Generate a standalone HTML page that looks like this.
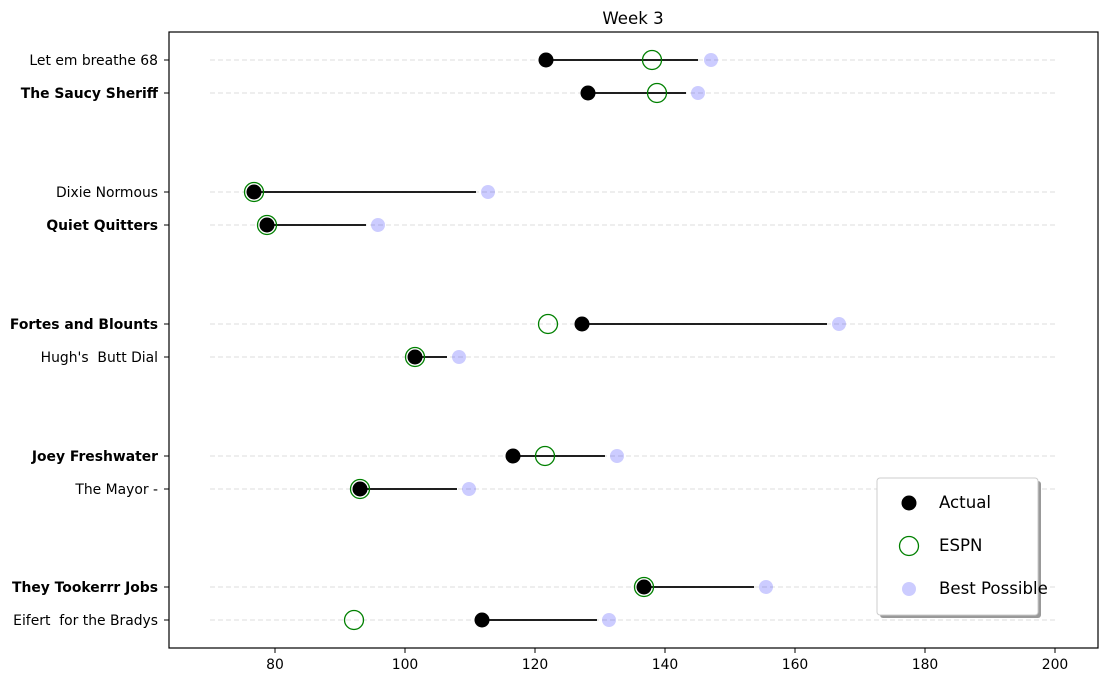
<!DOCTYPE html>
<html><head><meta charset="utf-8"><style>html,body{margin:0;padding:0;background:#fff}svg{display:block}text{font-family:"DejaVu Sans","Liberation Sans",sans-serif;font-size:13.9px;fill:#000}</style></head>
<body>
<svg width="1108" height="682" xmlns="http://www.w3.org/2000/svg">
<text x="633" y="24" text-anchor="middle" style="font-size:16.6px">Week 3</text>
<g stroke="#e3e3e3" stroke-width="1.2" stroke-dasharray="5,3">
<line x1="210" x2="1055" y1="60" y2="60"/><line x1="210" x2="1055" y1="93" y2="93"/>
<line x1="210" x2="1055" y1="192" y2="192"/><line x1="210" x2="1055" y1="225" y2="225"/>
<line x1="210" x2="1055" y1="324" y2="324"/><line x1="210" x2="1055" y1="357" y2="357"/>
<line x1="210" x2="1055" y1="456" y2="456"/><line x1="210" x2="1055" y1="489" y2="489"/>
<line x1="210" x2="1055" y1="587" y2="587"/><line x1="210" x2="1055" y1="620" y2="620"/>
</g>
<g stroke="#000" stroke-width="1.8">
<line x1="546" x2="698" y1="60" y2="60"/><line x1="588" x2="686" y1="93" y2="93"/>
<line x1="254" x2="476" y1="192" y2="192"/><line x1="267" x2="366" y1="225" y2="225"/>
<line x1="582" x2="827" y1="324" y2="324"/><line x1="415" x2="447" y1="357" y2="357"/>
<line x1="513" x2="605" y1="456" y2="456"/><line x1="360" x2="457" y1="489" y2="489"/>
<line x1="644" x2="754" y1="587" y2="587"/><line x1="482" x2="597" y1="620" y2="620"/>
</g>
<g fill="#0000ff" fill-opacity="0.2">
<circle cx="711" cy="60" r="7"/><circle cx="698" cy="93" r="7"/><circle cx="488" cy="192" r="7"/><circle cx="378" cy="225" r="7"/><circle cx="839" cy="324" r="7"/><circle cx="459" cy="357" r="7"/><circle cx="617" cy="456" r="7"/><circle cx="469" cy="489" r="7"/><circle cx="766" cy="587" r="7"/><circle cx="609" cy="620" r="7"/>
</g>
<g fill="#000">
<circle cx="546" cy="60" r="7.5"/><circle cx="588" cy="93" r="7.5"/><circle cx="254" cy="192" r="7.5"/><circle cx="267" cy="225" r="7.5"/><circle cx="582" cy="324" r="7.5"/><circle cx="415" cy="357" r="7.5"/><circle cx="513" cy="456" r="7.5"/><circle cx="360" cy="489" r="7.5"/><circle cx="644" cy="587" r="7.5"/><circle cx="482" cy="620" r="7.5"/>
</g>
<g fill="none" stroke="#008000" stroke-width="1.3">
<circle cx="652" cy="60" r="9.5"/><circle cx="657" cy="93" r="9.5"/><circle cx="254" cy="192" r="9.5"/><circle cx="267" cy="225" r="9.5"/><circle cx="548" cy="324" r="9.5"/><circle cx="415" cy="357" r="9.5"/><circle cx="545" cy="456" r="9.5"/><circle cx="360" cy="489" r="9.5"/><circle cx="644" cy="587" r="9.5"/><circle cx="354" cy="620" r="9.5"/>
</g>
<rect x="169" y="32" width="929" height="616" fill="none" stroke="#000" stroke-width="1.2"/>
<g stroke="#000" stroke-width="1">
<line x1="164" x2="169" y1="60" y2="60"/><line x1="164" x2="169" y1="93" y2="93"/><line x1="164" x2="169" y1="192" y2="192"/><line x1="164" x2="169" y1="225" y2="225"/><line x1="164" x2="169" y1="324" y2="324"/><line x1="164" x2="169" y1="357" y2="357"/><line x1="164" x2="169" y1="456" y2="456"/><line x1="164" x2="169" y1="489" y2="489"/><line x1="164" x2="169" y1="587" y2="587"/><line x1="164" x2="169" y1="620" y2="620"/>
<line x1="275" x2="275" y1="648" y2="653"/><line x1="405" x2="405" y1="648" y2="653"/><line x1="535" x2="535" y1="648" y2="653"/><line x1="665" x2="665" y1="648" y2="653"/><line x1="795" x2="795" y1="648" y2="653"/><line x1="925" x2="925" y1="648" y2="653"/><line x1="1055" x2="1055" y1="648" y2="653"/>
</g>
<g text-anchor="end">
<text x="158" y="65">Let em breathe 68</text>
<text x="158" y="98" font-weight="bold">The Saucy Sheriff</text>
<text x="158" y="197">Dixie Normous</text>
<text x="158" y="230" font-weight="bold">Quiet Quitters</text>
<text x="158" y="329" font-weight="bold">Fortes and Blounts</text>
<text x="158" y="362" xml:space="preserve">Hugh's  Butt Dial</text>
<text x="158" y="461" font-weight="bold">Joey Freshwater</text>
<text x="158" y="494">The Mayor -</text>
<text x="158" y="592" font-weight="bold">They Tookerrr Jobs</text>
<text x="158" y="625" xml:space="preserve">Eifert  for the Bradys</text>
</g>
<g text-anchor="middle">
<text x="275" y="669">80</text><text x="405" y="669">100</text><text x="535" y="669">120</text><text x="665" y="669">140</text><text x="795" y="669">160</text><text x="925" y="669">180</text><text x="1055" y="669">200</text>
</g>
<rect x="880" y="481" width="161" height="137" rx="3" fill="#999"/>
<rect x="877" y="478" width="161" height="137" rx="3" fill="#fff" stroke="#ccc"/>
<circle cx="909" cy="503" r="7.5" fill="#000"/>
<circle cx="909" cy="546" r="9.5" fill="none" stroke="#008000" stroke-width="1.3"/>
<circle cx="909" cy="589" r="7" fill="#0000ff" fill-opacity="0.2"/>
<text x="939" y="508" style="font-size:16.6px">Actual</text>
<text x="939" y="551" style="font-size:16.6px">ESPN</text>
<text x="939" y="594" style="font-size:16.6px">Best Possible</text>
</svg>
</body></html>
